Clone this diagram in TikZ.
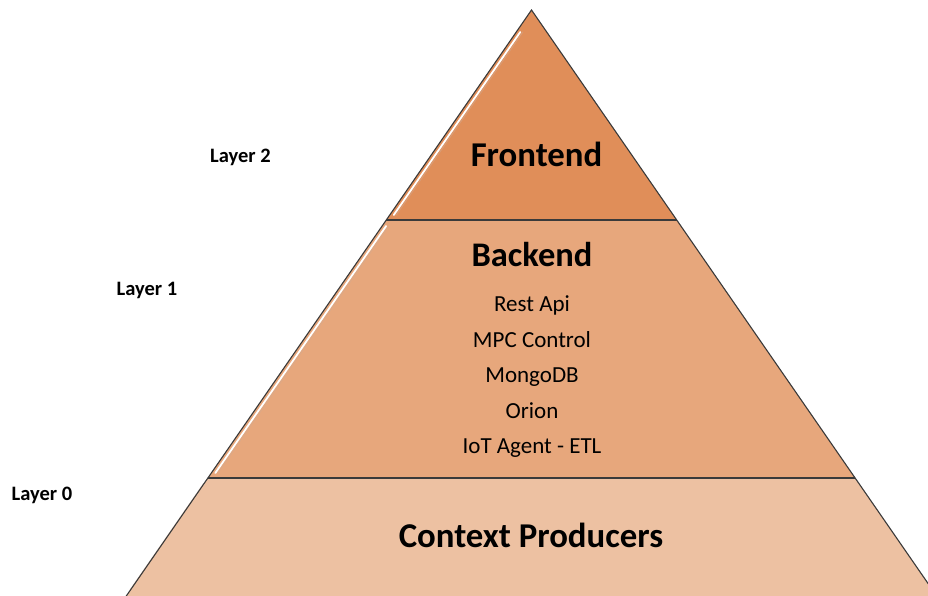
\documentclass[tikz,border=0pt]{standalone}
\usepackage{fontspec}
\setmainfont{Carlito}
\definecolor{cfront}{HTML}{E08E59}
\definecolor{cback}{HTML}{E7A77C}
\definecolor{cctx}{HTML}{EDC1A2}
\definecolor{cedge}{HTML}{3A3A3A}
\tikzset{
  band/.style={draw=cedge, line width=1.1pt, line join=miter},
  gloss/.style={white, line width=1.8pt, line cap=round},
  glossshade/.style={cfront!80!black!60!white, line width=1pt, line cap=round, opacity=0.5},
  title/.style={font=\fontsize{34.8}{40}\selectfont\bfseries, inner sep=0pt, anchor=base},
  item/.style={font=\fontsize{23}{26}\selectfont, inner sep=0pt, anchor=base},
  layer/.style={font=\fontsize{20.5}{24}\selectfont\bfseries, inner sep=0pt, anchor=base west}
}
\begin{document}
\begin{tikzpicture}[x=1pt,y=-1pt]
\useasboundingbox (0,0) rectangle (928,595);
\clip (0,0) rectangle (928,595);
\def\k{0.6915}
\coordinate (apex) at (531.5,10);
% band boundaries
\coordinate (fl) at ({531.5-\k*210},220);
\coordinate (fr) at ({531.5+\k*210},220);
\coordinate (bl) at ({531.5-\k*468},478);
\coordinate (br) at ({531.5+\k*468},478);
\coordinate (cl) at ({531.5-\k*600},610);
\coordinate (cr) at ({531.5+\k*600},610);
% bands
\fill[cctx] (bl) -- (br) -- (cr) -- (cl) -- cycle;
\fill[cback] (fl) -- (fr) -- (br) -- (bl) -- cycle;
\fill[cfront] (apex) -- (fr) -- (fl) -- cycle;
% gloss highlights on the left edges
\draw[glossshade] ({531.5-\k*22+6.5},32) -- ({531.5-\k*205+6.5},215);
\draw[glossshade] ({531.5-\k*216+6.5},226) -- ({531.5-\k*463+6.5},473);
\draw[glossshade] ({531.5-\k*484+6.5},484) -- ({531.5-\k*590+6.5},590);
\draw[gloss] ({531.5-\k*22+4},32) -- ({531.5-\k*205+4},215);
\draw[gloss] ({531.5-\k*216+4},226) -- ({531.5-\k*463+4},473);
\draw[gloss] ({531.5-\k*484+4},484) -- ({531.5-\k*590+4},590);
% outlines
\draw[band] (cl) -- (bl) -- (fl) -- (apex) -- (fr) -- (br) -- (cr);
\draw[band] (fl) -- (fr);
\draw[band] (bl) -- (br);
% texts
\node[title] (front) at (536.5,166) {Frontend};
\node[title, font=\fontsize{34.5}{40}\selectfont\bfseries] (back) at (532,266) {Backend};
\node[item] (i1) at (532,311) {Rest Api};
\node[item] (i2) at (532,347) {MPC Control};
\node[item] (i3) at (532,382) {MongoDB};
\node[item] (i4) at (532,418) {Orion};
\node[item] (i5) at (532,453) {IoT Agent - ETL};
\node[title] (ctx) at (531,547) {Context Producers};
\node[layer] (l2) at (210,162.5) {Layer 2};
\node[layer] (l1) at (116.5,295.5) {Layer 1};
\node[layer] (l0) at (11.5,500) {Layer 0};
\end{tikzpicture}
\end{document}
